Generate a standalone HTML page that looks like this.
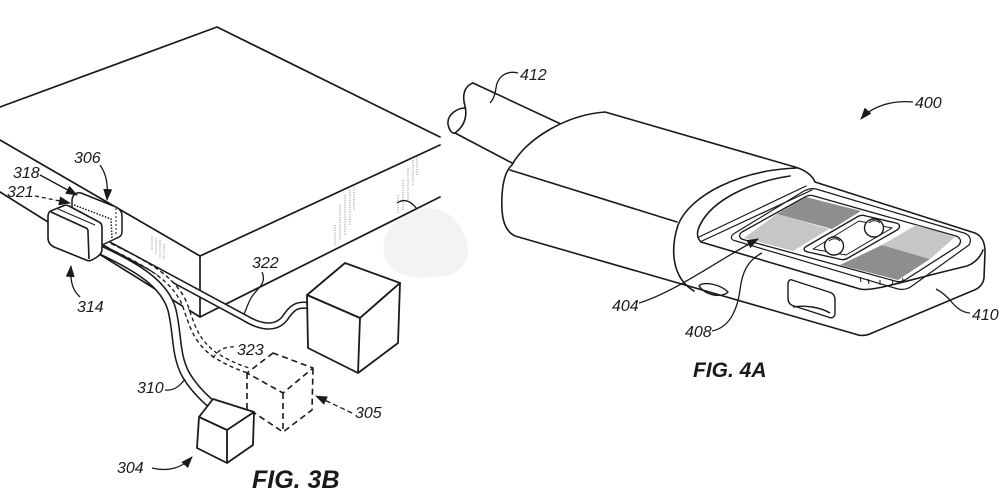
<!DOCTYPE html>
<html><head><meta charset="utf-8"><style>
html,body{margin:0;padding:0;background:#fff;}
svg{display:block;}
.t{font-family:"Liberation Sans",Arial,sans-serif;font-style:italic;font-size:16px;fill:#1a1a1a;}
.f{font-family:"Liberation Sans",Arial,sans-serif;font-style:italic;font-weight:bold;fill:#1a1a1a;}
</style></head><body>
<svg width="1000" height="500" viewBox="0 0 1000 500" xmlns="http://www.w3.org/2000/svg">
<defs>
<marker id="ah" markerWidth="12" markerHeight="9" refX="11" refY="4.5" orient="auto" markerUnits="userSpaceOnUse">
<path d="M0,0 L12,4.5 L0,9 Z" fill="#1a1a1a" stroke="none"/>
</marker>
</defs>
<rect width="1000" height="500" fill="#fff"/>

<!-- smudge -->
<path d="M385,258 C 378,232 398,214 420,209 C 446,204 462,222 468,245 C 471,266 455,278 430,277 C 408,279 390,274 385,258 Z" fill="#f3f3f3"/>

<g fill="none" stroke="#1a1a1a" stroke-width="1.7" stroke-linejoin="round" stroke-linecap="round">
<!-- FIG 3B box -->
<path d="M0,107 L217,27 L440,137"/>
<path d="M0,140 L200,256 L440,145"/>
<path d="M200,256 L200,317"/>
<path d="M0,192 L200,317 L440,197"/>
</g>

<!-- hatch marks -->
<g stroke="#8a8a8a" stroke-width="0.9" stroke-dasharray="1.2,1.2" fill="none">
<path d="M152,236 L152,250 M156,238 L156,255 M160,240 L160,258 M164,244 L164,260"/>
<path d="M335,225 L335,247 M340,205 L340,240 M345,195 L345,235 M350,190 L350,225 M354,187 L354,210"/>
<path d="M398,195 L398,213 M403,180 L403,210 M408,168 L408,200 M413,160 L413,185 M417,157 L417,175"/>
</g>
<path d="M397,203 Q407,196 417,209" fill="none" stroke="#1a1a1a" stroke-width="1.3"/>

<!-- cables -->
<g fill="none" stroke-linecap="butt" stroke-linejoin="round">
<path d="M100,240 L245,318 C 258,326 275,331 285,318 C 292,308 296,303 312,306" stroke="#1a1a1a" stroke-width="7.5"/>
<path d="M100,240 L245,318 C 258,326 275,331 285,318 C 292,308 296,303 312,306" stroke="#fff" stroke-width="4.4"/>
<path d="M110,246 C 150,265 175,280 185,305 C 192,325 195,340 215,355 C 228,363 240,368 250,371" stroke="#1a1a1a" stroke-width="6.5" stroke-dasharray="4,3"/>
<path d="M110,246 C 150,265 175,280 185,305 C 192,325 195,340 215,355 C 228,363 240,368 250,371" stroke="#fff" stroke-width="3.8"/>
<path d="M96,248 C 140,268 165,285 172,310 C 178,335 175,355 186,375 C 195,390 206,400 216,408" stroke="#1a1a1a" stroke-width="9.5"/>
<path d="M96,248 C 140,268 165,285 172,310 C 178,335 175,355 186,375 C 195,390 206,400 216,408" stroke="#fff" stroke-width="6.4"/>
</g>

<!-- receptacle 306 -->
<g stroke="#1a1a1a" stroke-width="1.5" stroke-linejoin="round">
<path d="M72,201 C 72,195 76,192 81,193 L116,207 C 120,209 122,212 122,216 L122,232 C 122,235 120,237 117,238 L100,246 L72,222 Z" fill="#fff"/>
<path d="M74,205 L111,219 L112,238" fill="none" stroke-dasharray="1.5,1.5"/>
<path d="M116,208 L116,236" fill="none" stroke-dasharray="2,2" stroke-width="1"/>
</g>

<!-- plug 314 -->
<g stroke="#1a1a1a" stroke-width="1.6" stroke-linejoin="round" fill="#fff">
<path d="M53,210 L63,206 C 65,205 67,205 69,206 L99,222 C 101,223 102,225 102,227 L102,249 C 102,252 100,255 97,257 L92,260 C 90,261 88,261 86,260 L54,247 C 50,245 48,242 48,238 L48,216 C 48,213 50,211 53,210 Z"/>
<path d="M51,212 L86,228 C 88,229 88,230 88,232 L89,259" fill="none"/>
<path d="M58,209 L95,225" fill="none" stroke-width="1"/>
</g>

<!-- cubes -->
<g stroke="#1a1a1a" stroke-width="1.8" stroke-linejoin="round">
<polygon points="345,263 307,295 360,318 400,283" fill="#fff"/>
<path d="M307,295 L308,348 L358,373 L398,343 L400,283 L360,318 L307,295 Z" fill="#fff"/>
<path d="M360,318 L358,373" fill="none"/>
<path d="M273,353 L247,373 L283,393 L313,368 Z M247,373 L247,408 L283,432 L312,410 L313,368 M283,393 L283,432" fill="none" stroke-dasharray="6,4" stroke-width="1.6"/>
<path d="M213,399 L199,417 L197,448 L227,463 L253,445 L254,412 Z" fill="#fff"/>
<path d="M199,417 L227,430 L254,412 M227,430 L227,463" fill="none"/>
</g>

<!-- FIG 3B leaders -->
<g fill="none" stroke="#1a1a1a" stroke-width="1.3">
<path d="M40,175 L77,195" marker-end="url(#ah)"/>
<path d="M35,196 L70,203" stroke-dasharray="4,3" marker-end="url(#ah)"/>
<path d="M100,165 C 107,175 108,185 107,200" marker-end="url(#ah)"/>
<path d="M80,297 C 72,290 70,280 71,266" marker-end="url(#ah)"/>
<path d="M262,272 C 268,285 254,290 250,300 C 247,306 246,310 244,314"/>
<path d="M213,358 C 218,350 225,346 236,347" stroke-dasharray="4,3"/>
<path d="M165,390 C 174,391 180,386 185,379"/>
<path d="M352,413 L316,396" stroke-dasharray="5,3" marker-end="url(#ah)"/>
<path d="M152,468 C 168,472 182,468 192,457" marker-end="url(#ah)"/>
</g>

<g class="t">
<text x="74" y="163">306</text>
<text x="13" y="178">318</text>
<text x="7" y="197">321</text>
<text x="77" y="312">314</text>
<text x="252" y="268">322</text>
<text x="237" y="355">323</text>
<text x="137" y="393">310</text>
<text x="355" y="418">305</text>
<text x="117" y="473">304</text>
</g>
<text class="f" x="252" y="488" font-size="25">FIG. 3B</text>

<!-- FIG 4A -->
<g fill="none" stroke="#1a1a1a" stroke-width="1.6" stroke-linejoin="round" stroke-linecap="round">
<!-- cable -->
<path d="M473,83 L563,125"/>
<path d="M455,133 L512,163"/>
<path d="M473,83 C 464,86 462,96 465,106 C 467,114 466,125 455,133"/>
<path d="M465,108 C 458,108 447,114 448,124 C 449,131 453,134 455,133"/>
<!-- housing -->
<path d="M512,165 C 525,140 565,115 605,112 L795,167 C 805,170 812,175 815,182 L975,233 C 982,236 985,242 985,252 L984,278 C 983,285 978,289 972,291 L872,333 C 866,336 860,336 855,334 L515,236 C 503,230 501,215 502,195 C 503,180 506,170 512,165 Z" fill="#fff"/>
<path d="M510,170 L677,222"/>
<path d="M797,168 C 740,170 690,195 678,225 C 670,250 672,278 694,291"/>
<path d="M790,176 C 750,182 712,200 700,225 C 696,233 697,238 701,242"/>
<path d="M699,237 L806,186" stroke-width="1.2"/>
<path d="M702,241 L812,190" stroke-width="1.2"/>
<path d="M701,242 L860,289 C 872,292 900,282 967,266 C 975,263 980,258 983,250"/>
<!-- rim -->
<path d="M736,241 C 730,240 730,236 735,233 L804,191 C 808,189 812,188 816,189 L964,233 C 970,235 972,240 969,245 L912,286 C 908,289 903,290 898,289 Z" stroke-width="1.2"/>
<!-- pad -->
<path d="M745,240 C 739,239 738,235 742,232 L805,197 C 808,195 811,195 814,196 L956,236 C 961,238 962,242 958,246 L905,280 C 902,282 898,282 895,281 Z" fill="#fff" stroke-width="1.3"/>
</g>
<g stroke="none">
<polygon points="744,238 777,214 829,229 793,251" fill="#c6c6c6"/>
<polygon points="777,214 806,197 861,211 832,229" fill="#8e8e8e"/>
<polygon points="840,265 882,245 930,259 898,280" fill="#8e8e8e"/>
<polygon points="882,245 916,225 955,237 930,259" fill="#c6c6c6"/>
</g>
<g fill="none" stroke="#1a1a1a" stroke-width="1.4" stroke-linejoin="round">
<path d="M808,252 C 803,251 803,248 807,246 L857,217 C 860,215 863,215 866,216 L896,223 C 900,224 901,227 897,230 L848,258 C 845,260 842,260 839,259 Z" fill="#fff"/>
<path d="M813,249 L859,221 L892,228 L846,255 Z" stroke-width="1"/>
<ellipse cx="834" cy="246" rx="9.5" ry="9" fill="#fff"/>
<ellipse cx="874" cy="228" rx="9.5" ry="9" fill="#fff"/>
<path d="M829,241 C 832,238 837,238 840,241 M869,223 C 872,220 877,220 880,223" stroke-width="0.9"/>
<path d="M860,277 L861,282 M868,279 L869,284 M880,280 L880,285 M893,280 L892,285 M903,278 L902,283" stroke-width="1"/>
<!-- slots -->
<path d="M792,280 L829,292 C 833,293 835,296 835,300 L835,313 C 835,317 832,319 828,317 L794,306 C 790,305 788,302 788,298 L788,284 C 788,281 790,279 792,280 Z"/>
<path d="M793,307 C 805,305 820,307 830,313"/>
<path d="M699,286 C 703,281 720,284 728,292 C 722,298 706,296 699,286 Z"/>
</g>

<!-- FIG 4A leaders -->
<g fill="none" stroke="#1a1a1a" stroke-width="1.3">
<path d="M518,73 C 505,70 497,78 496,88 C 495,96 493,100 490,103"/>
<path d="M913,102 C 893,100 872,106 861,119" marker-end="url(#ah)"/>
<path d="M639,303 C 675,292 715,262 758,239" marker-end="url(#ah)"/>
<path d="M712,331 C 732,327 738,305 740,290 C 742,272 748,260 762,253"/>
<path d="M970,313 C 958,312 953,303 948,298 C 944,294 940,291 936,289"/>
</g>
<g class="t">
<text x="520" y="80">412</text>
<text x="915" y="108">400</text>
<text x="612" y="311">404</text>
<text x="685" y="337">408</text>
<text x="972" y="320">410</text>
</g>
<text class="f" x="693" y="377" font-size="21">FIG. 4A</text>
</svg>
</body></html>
